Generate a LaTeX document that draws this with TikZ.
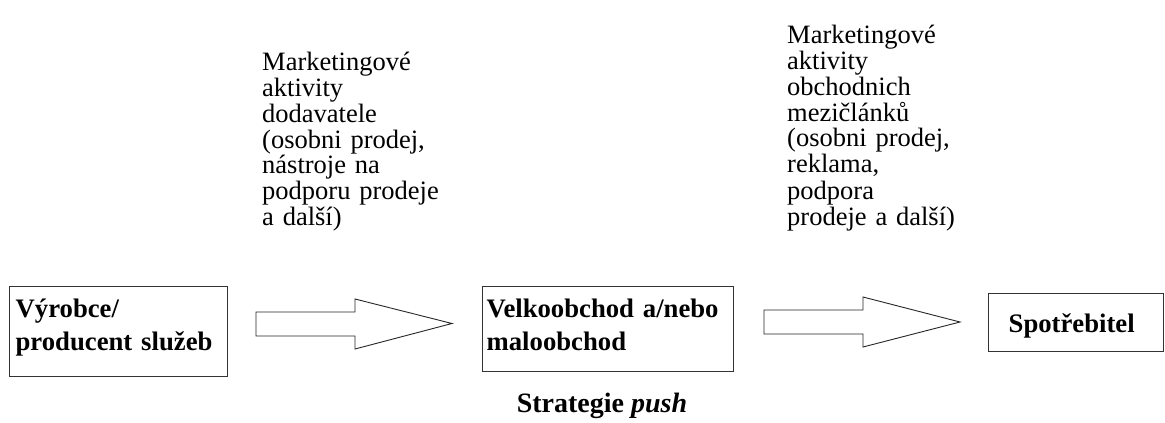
\documentclass[tikz,border=0pt]{standalone}
\usepackage{fontspec}
\setmainfont{Liberation Serif}
\begin{document}
\begin{tikzpicture}[x=1pt,y=-1pt,
  box/.style={draw=black!80, line width=1.3pt, inner ysep=0pt, anchor=north west,
    align=left, font=\fontsize{26.7}{33}\selectfont\bfseries},
  note/.style={anchor=base west, align=left, inner sep=0pt, text width=200pt,
    font=\fontsize{26.5}{26}\selectfont},
  blockarrow/.style={draw=black!85, line width=0.9pt, fill=white, line join=miter},
  caption/.style={anchor=base, inner sep=0pt, font=\fontsize{28}{28}\selectfont\bfseries}]
\useasboundingbox (0,0) rectangle (1165,423);

% the three links of the distribution chain
\node[box, inner xsep=6pt, text width=206pt, text height=31pt, text depth=59pt]
  (prod) at (9,286) {Výrobce/\\producent služeb};
\node[box, inner xsep=4pt, text width=243pt, text height=31pt, text depth=54pt]
  (trade) at (482,286) {Velkoobchod a/nebo\\maloobchod};
\node[box, inner xsep=20pt, text width=135pt, text height=39pt, text depth=19pt]
  (cons) at (988,293) {Spotřebitel};

% block arrows between the links
\draw[blockarrow] (256,312) -- (355,312) -- (355,299) -- (452,323.5)
  -- (355,349) -- (355,336) -- (256,336) -- cycle;
\draw[blockarrow] (764,310) -- (863,310) -- (863,297) -- (960,322)
  -- (863,347) -- (863,334) -- (764,334) -- cycle;

% marketing activities above each arrow
\node[note] (act1) at (262,70) {Marketingové\\aktivity\\dodavatele\\(osobni prodej,\\nástroje na\\podporu prodeje\\a další)};
\node[note] (act2) at (787,43) {Marketingové\\aktivity\\obchodnich\\mezičlánků\\(osobni prodej,\\reklama,\\podpora\\prodeje a další)};

\node[caption] (title) at (602,412) {Strategie \textit{push}};
\end{tikzpicture}
\end{document}
